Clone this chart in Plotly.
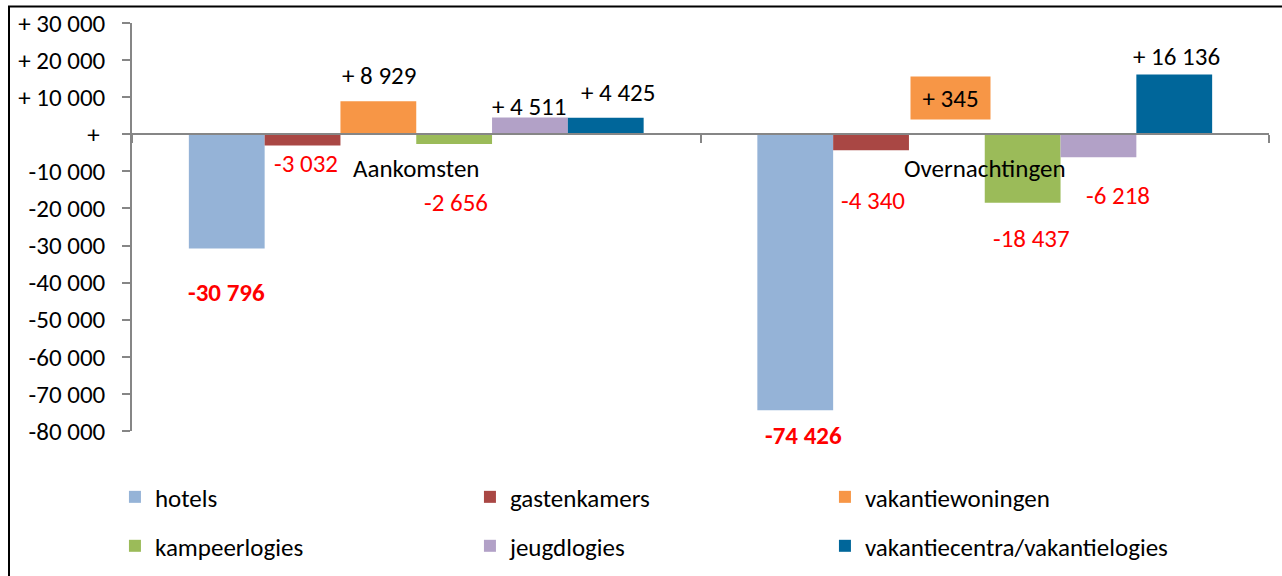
import plotly.graph_objects as go

# ---------------- data ----------------
categories = ["Aankomsten", "Overnachtingen"]
series_names = ["hotels", "gastenkamers", "vakantiewoningen",
                "kampeerlogies", "jeugdlogies", "vakantiecentra/vakantielogies"]
hotels = [-30796, -74426]
gastenkamers = [-3032, -4340]
vakantiewoningen = [8929, 345]
kampeerlogies = [-2656, -18437]
jeugdlogies = [4511, -6218]
vakantiecentra = [4425, 16136]
y_tickvals = [30000, 20000, 10000, 0, -10000, -20000, -30000, -40000,
              -50000, -60000, -70000, -80000]

series_values = [hotels, gastenkamers, vakantiewoningen,
                 kampeerlogies, jeugdlogies, vakantiecentra]

# ---------------- styles ----------------
colors = ["#95B3D7", "#A94744", "#F79646", "#9BBB59", "#B2A1C7", "#00669A"]
FONT = "Carlito, Lato, sans-serif"
FS = 25
AXIS_GRAY = "#868686"

# pixel offsets of the data labels relative to the bar end (per series, per category)
label_shift = [
    [(0, -44), (8, -25)],
    [(3, -18), (2, -50)],
    [(1, 26), (4, 35)],
    [(2, -58), (9, -36)],
    [(-1, 11), (20, -38)],
    [(12, 25), (2, 18)],
]


def fmt(v):
    s = f"{abs(v):,}".replace(",", " ")
    return ("+ " + s) if v >= 0 else ("-" + s)


def tick_fmt(v):
    if v == 0:
        return "+ "
    return fmt(v)


fig = go.Figure()
for i, (name, vals) in enumerate(zip(series_names, series_values)):
    fig.add_trace(go.Bar(
        name=name, x=categories, y=vals,
        marker=dict(color=colors[i], line=dict(width=0)),
        legend="legend" if i < 3 else "legend2",
    ))

n = len(series_names)
bargap = 0.2
bw = (1 - bargap) / n
annotations = []
for i, vals in enumerate(series_values):
    for c, v in enumerate(vals):
        xc = c - (1 - bargap) / 2 + bw * (i + 0.5)
        dx, dy = label_shift[i][c]
        txt = fmt(v)
        if i == 0:
            txt = "<b>" + txt + "</b>"
        ann = dict(x=xc, y=v, xref="x", yref="y", text=txt, showarrow=False,
                   xshift=dx, yshift=dy,
                   font=dict(family=FONT, size=FS,
                             color="#FF0000" if v < 0 else "#000000"))
        if i == 2 and c == 1:
            ann.update(bgcolor=colors[2], width=77, height=40)
        annotations.append(ann)

legend_common = dict(orientation="h", x=-0.015, xanchor="left", yanchor="middle",
                     entrywidth=310, entrywidthmode="pixels", traceorder="normal",
                     font=dict(family=FONT, size=FS, color="black"),
                     bgcolor="rgba(0,0,0,0)")

fig.update_layout(
    width=1282, height=576,
    margin=dict(l=132, r=13, t=23, b=145, autoexpand=False),
    paper_bgcolor="white", plot_bgcolor="white",
    barmode="group", bargap=bargap, bargroupgap=0,
    font=dict(family=FONT, size=FS, color="black"),
    annotations=annotations,
    showlegend=True,
    legend=dict(y=-0.162, **legend_common),
    legend2=dict(y=-0.282, **legend_common),
    shapes=[dict(type="rect", xref="paper", yref="paper",
                 x0=(9 - 132) / 1137, x1=1.2, y0=-1.0, y1=1 + (23 - 6.5) / 408,
                 line=dict(color="black", width=2), fillcolor="rgba(0,0,0,0)",
                 layer="below")],
)

fig.update_xaxes(
    anchor="free", position=8 / 11,
    showline=True, linecolor=AXIS_GRAY, linewidth=2,
    ticks="outside", tickson="boundaries", ticklen=8, tickcolor=AXIS_GRAY, tickwidth=2,
    showgrid=False, zeroline=False,
    ticklabelstandoff=12,
    tickfont=dict(family=FONT, size=FS, color="black"),
)
fig.update_yaxes(
    range=[-80000, 30000], tickvals=y_tickvals,
    ticktext=[tick_fmt(v) for v in y_tickvals],
    showline=True, linecolor=AXIS_GRAY, linewidth=1.5,
    ticks="outside", ticklen=8, tickcolor=AXIS_GRAY, tickwidth=1.5,
    ticklabelstandoff=12,
    showgrid=False, zeroline=False,
    tickfont=dict(family=FONT, size=FS, color="black"),
)

fig.write_html("out.html",
               config={"displayModeBar": False},
               post_script="document.body.style.margin='0';document.body.style.overflow='hidden';")
